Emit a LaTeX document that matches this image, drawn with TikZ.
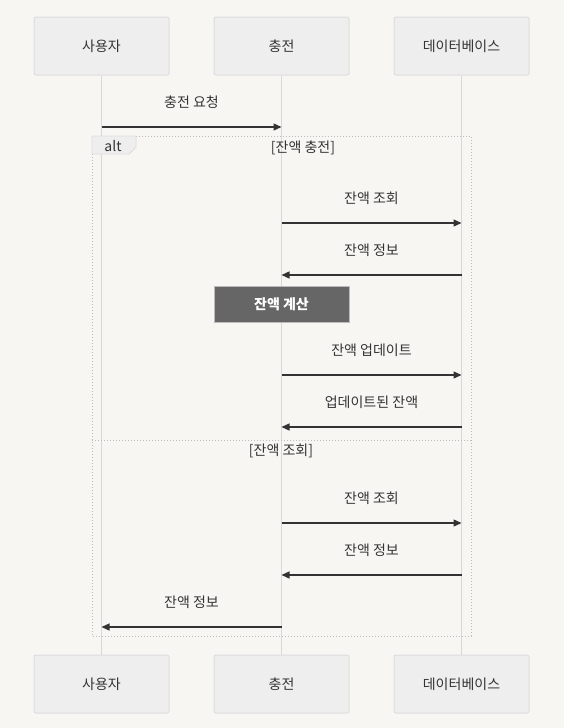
\documentclass[tikz,border=0pt]{standalone}
\usepackage{fontspec}
\setmainfont{Noto Sans CJK KR}
\usetikzlibrary{arrows.meta}
\definecolor{bg}{HTML}{F7F6F3}
\definecolor{actfill}{HTML}{EEEEEF}
\definecolor{actline}{HTML}{DDDDDD}
\definecolor{txt}{HTML}{333333}
\definecolor{lifeline}{HTML}{D8D8D8}
\definecolor{calc}{HTML}{666666}
\definecolor{frame}{HTML}{BBBBBB}
\tikzset{
  actor/.style={draw=actline, line width=1pt, fill=actfill, rounded corners=2pt,
    minimum width=135pt, minimum height=58pt, font=\fontsize{14}{16}\selectfont, text=txt},
  life/.style={draw=lifeline, line width=1.5pt},
  msg/.style={draw=txt, line width=1.3pt, -{Triangle[length=8pt,width=7pt]}},
  lbl/.style={font=\fontsize{14}{16}\selectfont, text=txt},
  calcbox/.style={draw=frame, line width=1pt, fill=calc, minimum width=135pt, minimum height=36pt,
    font=\bfseries\fontsize{14}{16}\selectfont, text=white},
  altframe/.style={draw=frame, line width=1pt, dotted},
}
\begin{document}
\begin{tikzpicture}[x=1pt,y=-1pt]
\useasboundingbox[fill=bg] (0,0) rectangle (564,728);
% actors
\node[actor] (u1) at (101.5,46) {사용자};
\node[actor] (c1) at (281.5,46) {충전};
\node[actor] (d1) at (461.5,46) {데이터베이스};
\node[actor] (u2) at (101.5,684) {사용자};
\node[actor] (c2) at (281.5,684) {충전};
\node[actor] (d2) at (461.5,684) {데이터베이스};
\draw[life] (u1.south) -- (u2.north);
\draw[life] (c1.south) -- (c2.north);
\draw[life] (d1.south) -- (d2.north);
% alt frame
\draw[altframe] (92,136) rectangle (471,636);
\draw[altframe] (92,440) -- (471,440);
\draw[draw=actline, fill=actfill, line width=0.8pt] (92,136) -- (136,136) -- (136,147) -- (129,154) -- (92,154) -- cycle;
\node[lbl, anchor=center] (alt) at (113,146) {alt};
\node[lbl] (g1) at (303,148) {[잔액 충전]};
\node[lbl] (g2) at (281,451) {[잔액 조회]};
% coordinates on lifelines
\foreach \n/\y in {a/127,b/223,c/275,e/375,f/427,g/523,h/575,i/627}{
  \coordinate (U\n) at (101.5,\y);
  \coordinate (C\n) at (281.5,\y);
  \coordinate (D\n) at (461.5,\y);
}
\draw[msg] (Ua) -- (Ca) node[lbl, midway, above=14pt] (m1) {충전 요청};
\draw[msg] (Cb) -- (Db) node[lbl, midway, above=14pt] (m2) {잔액 조회};
\draw[msg] (Dc) -- (Cc) node[lbl, midway, above=14pt] (m3) {잔액 정보};
\node[calcbox] (calc) at (281.5,304) {잔액 계산};
\draw[msg] (Ce) -- (De) node[lbl, midway, above=14pt] (m4) {잔액 업데이트};
\draw[msg] (Df) -- (Cf) node[lbl, midway, above=14pt] (m5) {업데이트된 잔액};
\draw[msg] (Cg) -- (Dg) node[lbl, midway, above=14pt] (m6) {잔액 조회};
\draw[msg] (Dh) -- (Ch) node[lbl, midway, above=14pt] (m7) {잔액 정보};
\draw[msg] (Ci) -- (Ui) node[lbl, midway, above=14pt] (m8) {잔액 정보};
\end{tikzpicture}
\end{document}
